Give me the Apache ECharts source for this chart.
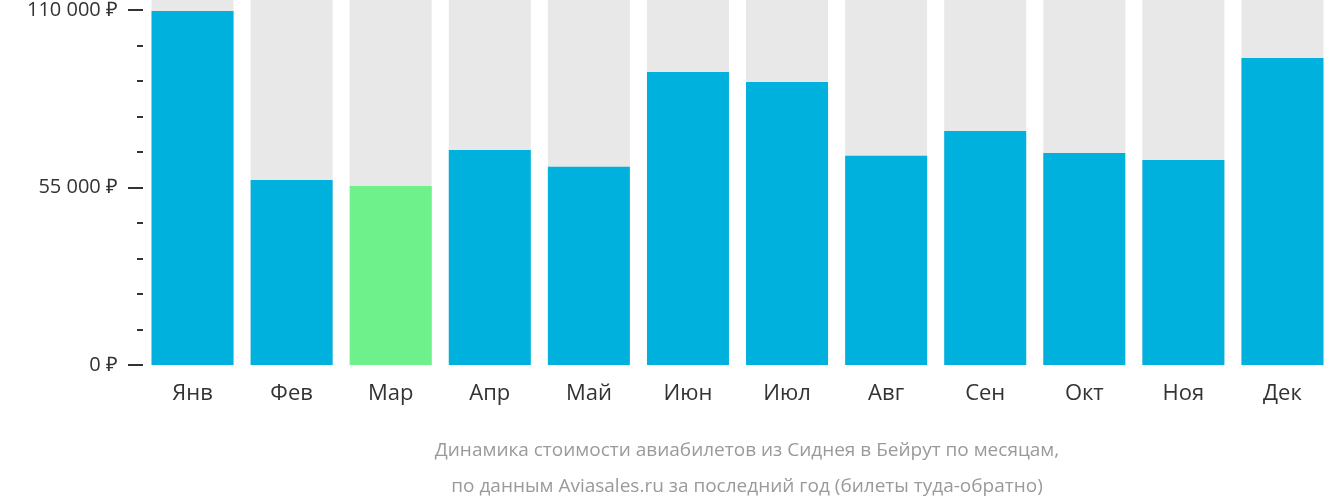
<!DOCTYPE html>
<html><head><meta charset="utf-8">
<script src="https://cdn.jsdelivr.net/npm/echarts@6/dist/echarts.min.js"></script>
<style>html,body{margin:0;padding:0;background:#fff}#c{width:1332px;height:502px}</style>
</head><body><div id="c"></div>
<script>
const categories = ['Янв','Фев','Мар','Апр','Май','Июн','Июл','Авг','Сен','Окт','Ноя','Дек'];
const prices = [109700, 57300, 55500, 66600, 61400, 90800, 87700, 64800, 72500, 65700, 63500, 95100];
const backgroundValues = [113100,113100,113100,113100,113100,113100,113100,113100,113100,113100,113100,113100];
const highlightIndex = 2;
const chart = echarts.init(document.getElementById('c'));
chart.setOption({
  animation:false,
  title:{text:'Динамика стоимости авиабилетов из Сиднея в Бейрут по месяцам,\nпо данным Aviasales.ru за последний год (билеты туда-обратно)',
    left:742, top:428, textAlign:'center',
    textStyle:{color:'#9a9a9a',fontSize:19,fontWeight:'normal',fontFamily:'Open Sans',lineHeight:36}},
  grid:{left:143,right:-11,top:10,bottom:137},
  xAxis:{type:'category',data:categories,axisLine:{show:false},axisTick:{show:false},
    axisLabel:{fontSize:22,color:'#333',fontFamily:'Open Sans',margin:18}},
  yAxis:{type:'value',min:0,max:110000,interval:55000,splitLine:{show:false},
    axisLine:{show:false},
    axisTick:{show:true,length:15,lineStyle:{color:'#333',width:2}},
    minorTick:{show:true,splitNumber:5,length:6,lineStyle:{color:'#333',width:2}},
    axisLabel:{fontSize:20,color:'#333',fontFamily:'Open Sans',margin:25,
      formatter:v=>v.toString().replace(/\B(?=(\d{3})+(?!\d))/g,' ')+' ₽'}},
  series:[
    {type:'bar',data:backgroundValues,barWidth:82,barGap:'-100%',clip:false,silent:true,
      itemStyle:{color:'#e8e8e8'}},
    {type:'bar',data:prices.map((v,i)=>({value:v,itemStyle:{color:i===highlightIndex?'#6ef08a':'#00b0dd'}})),
      barWidth:82}
  ]
});
</script></body></html>
